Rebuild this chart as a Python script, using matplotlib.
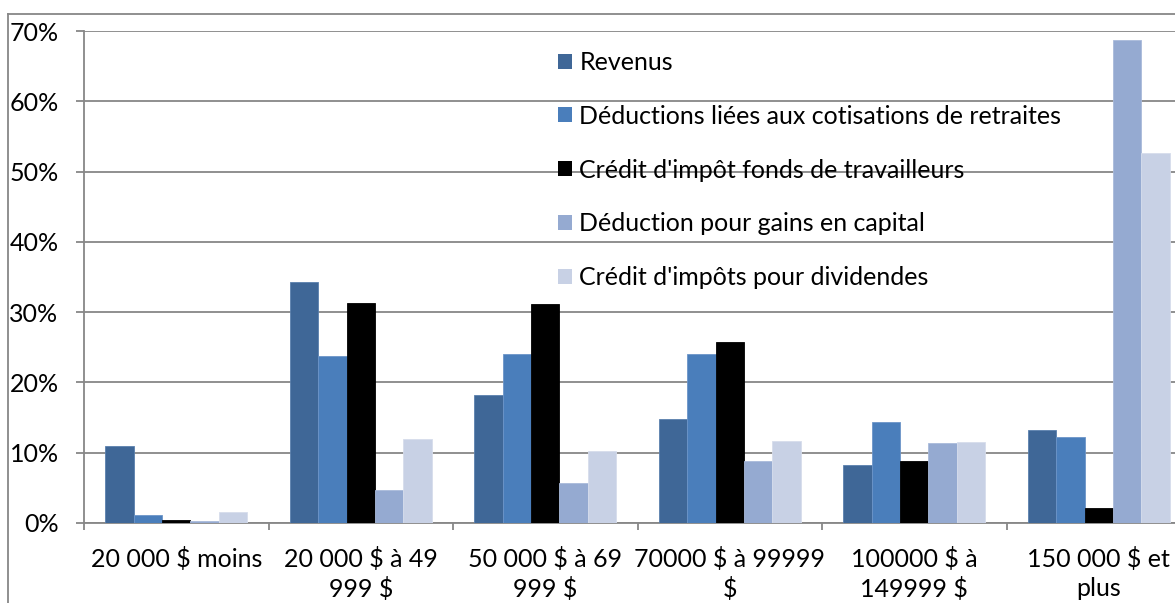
import matplotlib
matplotlib.use("Agg")
import matplotlib.pyplot as plt
import numpy as np
from matplotlib.patches import Patch
from matplotlib.lines import Line2D
from matplotlib.ticker import FixedLocator, PercentFormatter

plt.rcParams['font.family'] = ['Lato', 'DejaVu Sans']

categories = ["20 000 $ moins", "20 000 $ à 49\n999 $", "50 000 $ à 69\n999 $",
              "70000 $ à 99999\n$", "100000 $ à\n149999 $", "150 000 $ et\nplus"]
series_names = ["Revenus", "Déductions liées aux cotisations de retraites",
                "Crédit d'impôt fonds de travailleurs", "Déduction pour gains en capital",
                "Crédit d'impôts pour dividendes"]
revenus = [11.0, 34.3, 18.2, 14.8, 8.2, 13.2]
deductions_retraite = [1.2, 23.7, 24.1, 24.1, 14.4, 12.2]
credit_fonds = [0.45, 31.3, 31.1, 25.8, 8.8, 2.1]
gains_capital = [0.3, 4.7, 5.7, 8.8, 11.4, 68.7]
credit_dividendes = [1.6, 12.0, 10.3, 11.6, 11.5, 52.7]
yticks = [0, 10, 20, 30, 40, 50, 60, 70]

series = [revenus, deductions_retraite, credit_fonds, gains_capital, credit_dividendes]
colors = ["#3F6797", "#4A7EBB", "#000000", "#95AAD1", "#C8D1E5"]
edges = ["#5A80AE", "#6C95C8", "#000000", "#A9BADB", "#D6DDEC"]

FS = 18
W, H = 1175, 603
fig = plt.figure(figsize=(W / 100, H / 100), dpi=100)
ax = fig.add_axes([84 / W, (H - 523) / H, (1191 - 84) / W, (523 - 31) / H])

x = np.arange(len(categories))
bw = 1 / 6.5
for i, (vals, c, ec, name) in enumerate(zip(series, colors, edges, series_names)):
    ax.bar(x + (i - 2) * bw, vals, width=bw, color=c, edgecolor=ec, linewidth=0.6,
           label=name, zorder=3)

ax.set_xlim(-0.5, len(categories) - 0.5)
ax.set_ylim(0, 70)
ax.set_yticks(yticks)
ax.yaxis.set_major_formatter(PercentFormatter(decimals=0))
ax.grid(axis='y', color='#878787', linewidth=1.3, zorder=0)
ax.set_axisbelow(True)

ax.set_xticks(x)
ax.set_xticklabels(categories, fontsize=FS, linespacing=1.32)
ax.xaxis.set_minor_locator(FixedLocator(np.arange(-0.5, len(categories), 1.0)))
ax.tick_params(axis='x', which='major', length=0, pad=17)
ax.tick_params(axis='x', which='minor', length=5, width=1.3, color='#878787')
ax.tick_params(axis='y', length=5.8, width=1.3, color='#878787', labelsize=FS, pad=12.5)

for s in ['top', 'right']:
    ax.spines[s].set_visible(False)
for s in ['left', 'bottom']:
    ax.spines[s].set_color('#878787')
    ax.spines[s].set_linewidth(1.3)

handles = [Patch(facecolor=c, edgecolor='none') for c in colors]
leg = ax.legend(handles, series_names, loc='upper left',
                bbox_to_anchor=(558 / W, (H - 51) / H), bbox_transform=fig.transFigure,
                frameon=False, fontsize=FS, handlelength=0.55, handleheight=0.55,
                handletextpad=0.3, labelspacing=1.23, borderaxespad=0, borderpad=0)
leg.set_zorder(5)

# outer chart border (cropped)
fig.add_artist(Line2D([8 / W, 8 / W], [0, (H - 14) / H], color='#878787', linewidth=1.3,
                      transform=fig.transFigure))
fig.add_artist(Line2D([8 / W, 1], [(H - 14) / H, (H - 14) / H], color='#878787',
                      linewidth=1.3, transform=fig.transFigure))

fig.savefig("out.png", dpi=100)
